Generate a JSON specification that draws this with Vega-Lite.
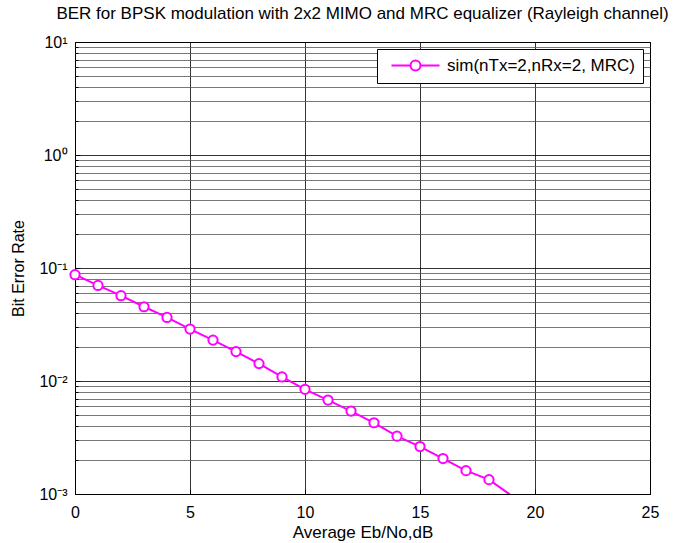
{
 "$schema": "https://vega.github.io/schema/vega-lite/v6.json",
 "width": 575,
 "height": 452,
 "autosize": {"type": "none"},
 "padding": {"left": 75, "top": 42, "right": 23, "bottom": 49},
 "background": "white",
 "config": {
  "view": {"stroke": "black", "strokeWidth": 1},
  "font": "Liberation Sans",
  "legend": {
   "title": null,
   "orient": "top-right",
   "offset": 7,
   "strokeColor": "black",
   "fillColor": "white",
   "padding": 8,
   "cornerRadius": 0,
   "labelFontSize": 17,
   "labelColor": "black",
   "labelFont": "Liberation Sans",
   "labelLimit": 400,
   "symbolType": "M-4,0H-0.83M0.83,0H4M0.83,0A0.83,0.83,0,1,1,-0.83,0A0.83,0.83,0,1,1,0.83,0",
   "symbolSize": 144,
   "symbolStrokeWidth": 2,
   "symbolFillColor": "white",
   "symbolStrokeColor": "#ff00ff",
   "symbolOffset": 22,
   "labelOffset": 23
  }
 },
 "title": {
  "text": "BER for BPSK modulation with 2x2 MIMO and MRC equalizer (Rayleigh channel)",
  "fontSize": 17,
  "fontWeight": "normal",
  "font": "Liberation Sans",
  "color": "black",
  "offset": 11
 },
 "data": {
  "values": [
   {"ebno": 0, "ber": 0.0873, "series": "sim(nTx=2,nRx=2, MRC)"},
   {"ebno": 1, "ber": 0.0701, "series": "sim(nTx=2,nRx=2, MRC)"},
   {"ebno": 2, "ber": 0.0569, "series": "sim(nTx=2,nRx=2, MRC)"},
   {"ebno": 3, "ber": 0.0454, "series": "sim(nTx=2,nRx=2, MRC)"},
   {"ebno": 4, "ber": 0.0365, "series": "sim(nTx=2,nRx=2, MRC)"},
   {"ebno": 5, "ber": 0.0288, "series": "sim(nTx=2,nRx=2, MRC)"},
   {"ebno": 6, "ber": 0.0230, "series": "sim(nTx=2,nRx=2, MRC)"},
   {"ebno": 7, "ber": 0.0182, "series": "sim(nTx=2,nRx=2, MRC)"},
   {"ebno": 8, "ber": 0.01425, "series": "sim(nTx=2,nRx=2, MRC)"},
   {"ebno": 9, "ber": 0.01086, "series": "sim(nTx=2,nRx=2, MRC)"},
   {"ebno": 10, "ber": 0.00844, "series": "sim(nTx=2,nRx=2, MRC)"},
   {"ebno": 11, "ber": 0.00678, "series": "sim(nTx=2,nRx=2, MRC)"},
   {"ebno": 12, "ber": 0.00542, "series": "sim(nTx=2,nRx=2, MRC)"},
   {"ebno": 13, "ber": 0.00427, "series": "sim(nTx=2,nRx=2, MRC)"},
   {"ebno": 14, "ber": 0.00325, "series": "sim(nTx=2,nRx=2, MRC)"},
   {"ebno": 15, "ber": 0.00263, "series": "sim(nTx=2,nRx=2, MRC)"},
   {"ebno": 16, "ber": 0.00206, "series": "sim(nTx=2,nRx=2, MRC)"},
   {"ebno": 17, "ber": 0.00161, "series": "sim(nTx=2,nRx=2, MRC)"},
   {"ebno": 18, "ber": 0.00134, "series": "sim(nTx=2,nRx=2, MRC)"},
   {"ebno": 19, "ber": 0.00096, "series": "sim(nTx=2,nRx=2, MRC)"}
  ]
 },
 "encoding": {
  "x": {
   "field": "ebno",
   "type": "quantitative",
   "scale": {"domain": [0, 25], "nice": false, "zero": false},
   "axis": {
    "title": "Average Eb/No,dB",
    "titleFontSize": 17,
    "titleFontWeight": "normal",
    "titleColor": "black",
    "titleFont": "Liberation Sans",
    "labelFontSize": 16,
    "labelColor": "black",
    "labelFont": "Liberation Sans",
    "labelFlush": false,
    "values": [0, 5, 10, 15, 20, 25],
    "grid": true,
    "gridColor": "black",
    "gridOpacity": 1,
    "gridWidth": 0.8,
    "tickSize": -5,
    "tickColor": "black",
    "domain": false,
    "labelPadding": 15,
    "titlePadding": 4
   }
  },
  "y": {
   "field": "ber",
   "type": "quantitative",
   "scale": {"type": "log", "domain": [0.001, 10], "nice": false},
   "axis": {
    "title": "Bit Error Rate",
    "titleFontSize": 16,
    "titleFontWeight": "normal",
    "titleColor": "black",
    "titleFont": "Liberation Sans",
    "labelFontSize": 16,
    "labelColor": "black",
    "labelFont": "Liberation Sans",
    "labelOverlap": false,
    "labelFlush": false,
    "values": [0.001, 0.002, 0.003, 0.004, 0.005, 0.006, 0.007, 0.008, 0.009, 0.01, 0.02, 0.03, 0.04, 0.05, 0.06, 0.07, 0.08, 0.09, 0.1, 0.2, 0.3, 0.4, 0.5, 0.6, 0.7, 0.8, 0.9, 1, 2, 3, 4, 5, 6, 7, 8, 9, 10],
    "labelExpr": "datum.value==10?'10¹':datum.value==1?'10⁰':datum.value==0.1?'10⁻¹':datum.value==0.01?'10⁻²':datum.value==0.001?'10⁻³':''",
    "grid": true,
    "gridColor": {"condition": {"test": "indexof([0.001,0.01,0.1,1,10], datum.value) >= 0", "value": "black"}, "value": "#555555"},
    "gridOpacity": 1,
    "gridWidth": 0.8,
    "tickSize": {"condition": {"test": "indexof([0.001,0.01,0.1,1,10], datum.value) >= 0", "value": -5}, "value": -3},
    "tickColor": "black",
    "domain": false,
    "labelPadding": 13,
    "titlePadding": 12
   }
  },
  "color": {
   "field": "series",
   "type": "nominal",
   "scale": {"range": ["#ff00ff"]}
  }
 },
 "layer": [
  {"mark": {"type": "line", "clip": true, "strokeWidth": 2}},
  {
   "transform": [{"filter": "datum.ber >= 0.001"}],
   "mark": {"type": "point", "shape": "circle", "size": 85, "strokeWidth": 2, "filled": false, "fill": "white", "opacity": 1}
  }
 ]
}
